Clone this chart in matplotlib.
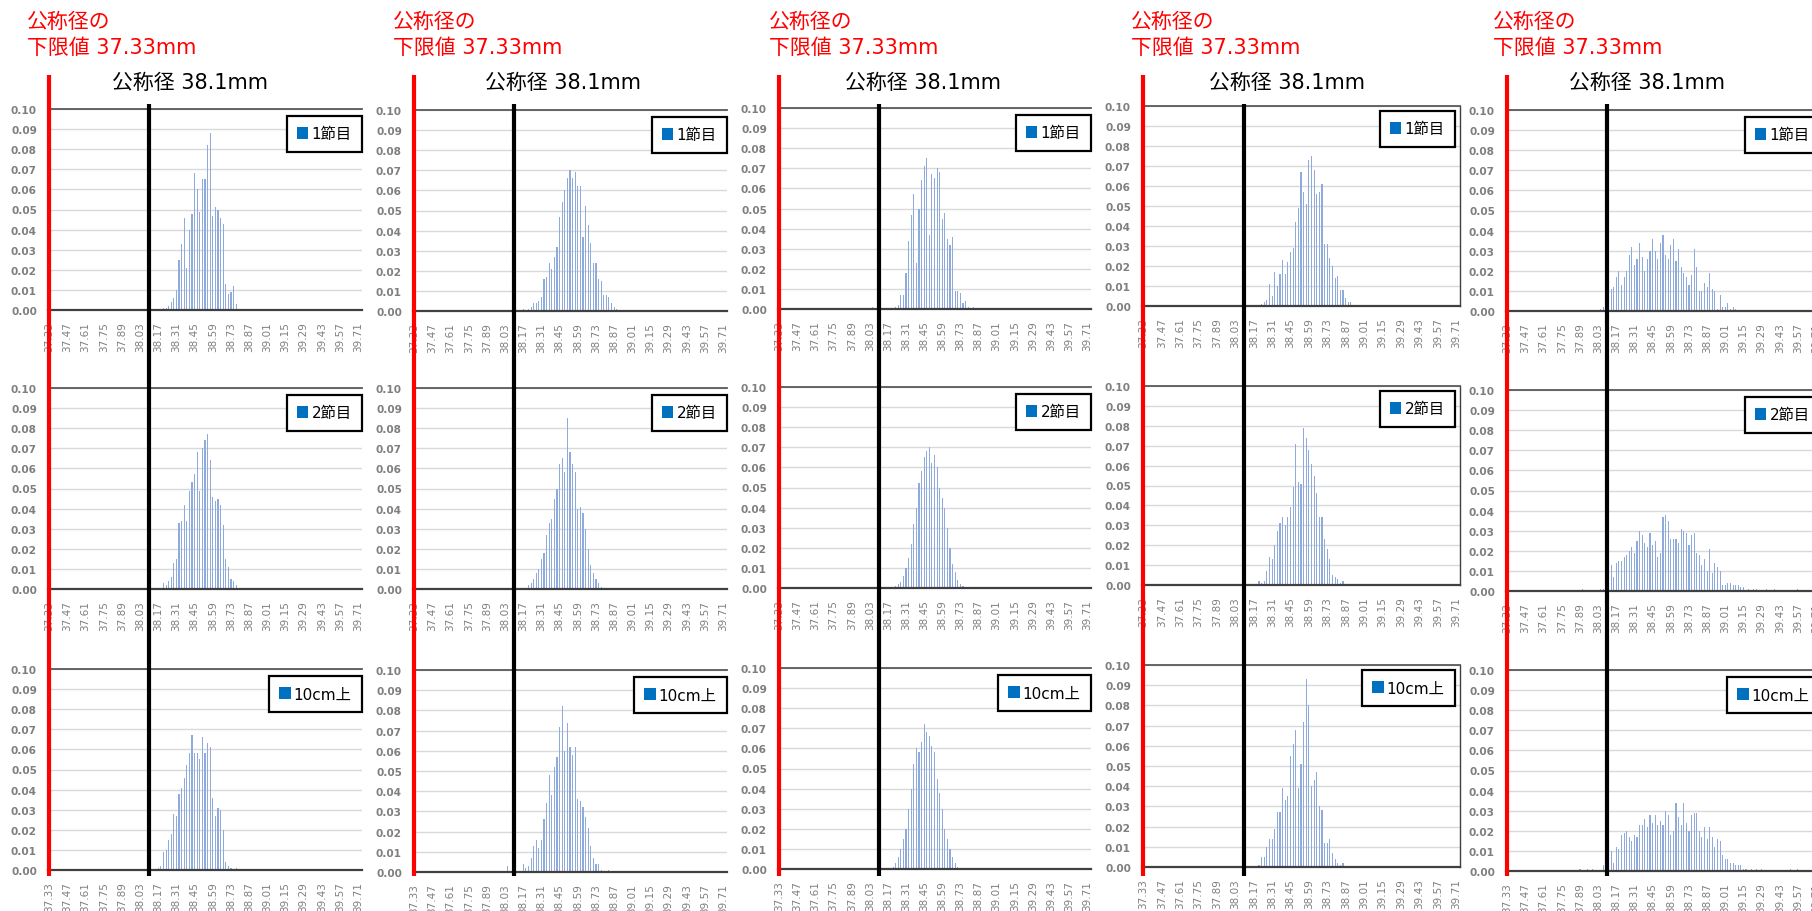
import numpy as np
import matplotlib
matplotlib.use("Agg")
import matplotlib.pyplot as plt
import matplotlib.transforms as mtransforms
from matplotlib.lines import Line2D
from matplotlib.patches import Patch
from matplotlib.ticker import FixedLocator, FormatStrFormatter

plt.rcParams["font.family"] = ["DejaVu Sans", "Noto Sans CJK JP"]

# ---- axis definition -------------------------------------------------------
BIN_FIRST = 37.33          # first diameter class (mm)
BIN_STEP = 0.02            # class width (mm)
N_BINS = 121               # number of classes on the category axis
LOWER_LIMIT = 37.33        # lower limit of nominal diameter (mm)
NOMINAL = 38.1             # nominal diameter (mm)
Y_MAX = 0.10

tick_labels = ["37.33", "37.47", "37.61", "37.75", "37.89", "38.03", "38.17",
               "38.31", "38.45", "38.59", "38.73", "38.87", "39.01", "39.15",
               "39.29", "39.43", "39.57", "39.71"]
y_ticks = [0.00, 0.01, 0.02, 0.03, 0.04, 0.05, 0.06, 0.07, 0.08, 0.09, 0.10]
series_names = ["1節目", "2節目", "10cm上"]

# ---- relative frequencies: first class and values on consecutive classes ----
c1_r1_from = 38.21
c1_r1 = [0.001, 0.001, 0.002, 0.004, 0.006, 0.010, 0.025, 0.033, 0.046, 0.021,
         0.040, 0.048, 0.068, 0.060, 0.049, 0.065, 0.065, 0.082, 0.088, 0.047,
         0.051, 0.050, 0.046, 0.043, 0.013, 0.008, 0.009, 0.012, 0.003]
c1_r2_from = 38.21
c1_r2 = [0.003, 0.002, 0.004, 0.006, 0.013, 0.015, 0.033, 0.034, 0.042, 0.034,
         0.049, 0.053, 0.057, 0.068, 0.049, 0.070, 0.074, 0.077, 0.064, 0.046,
         0.044, 0.045, 0.042, 0.032, 0.015, 0.011, 0.005, 0.004, 0.002]
c1_r3_from = 38.17
c1_r3 = [0.001, 0.002, 0.009, 0.010, 0.015, 0.018, 0.028, 0.027, 0.038, 0.041,
         0.046, 0.052, 0.058, 0.067, 0.058, 0.058, 0.055, 0.066, 0.058, 0.063,
         0.061, 0.036, 0.027, 0.031, 0.030, 0.020, 0.004, 0.002, 0.001, 0.000,
         0.001]

c2_r1_from = 38.17
c2_r1 = [0.001, 0.000, 0.001, 0.002, 0.004, 0.004, 0.005, 0.007, 0.016, 0.017,
         0.024, 0.021, 0.027, 0.032, 0.047, 0.054, 0.060, 0.066, 0.070, 0.066,
         0.069, 0.062, 0.062, 0.037, 0.052, 0.043, 0.034, 0.024, 0.024, 0.016,
         0.015, 0.008, 0.008, 0.007, 0.004, 0.002, 0.001]
c2_r2_from = 38.21
c2_r2 = [0.002, 0.003, 0.005, 0.008, 0.010, 0.015, 0.018, 0.027, 0.033, 0.035,
         0.045, 0.050, 0.062, 0.065, 0.058, 0.085, 0.068, 0.062, 0.058, 0.040,
         0.041, 0.038, 0.030, 0.020, 0.012, 0.008, 0.005, 0.003, 0.001]
c2_r3_from = 38.05
c2_r3 = [0.003, 0.000, 0.000, 0.000, 0.000, 0.000,
         0.004, 0.002, 0.003, 0.007, 0.013, 0.016, 0.012, 0.016, 0.026, 0.034,
         0.048, 0.038, 0.052, 0.057, 0.072, 0.082, 0.060, 0.074, 0.062, 0.058,
         0.062, 0.036, 0.035, 0.032, 0.027, 0.022, 0.013, 0.007, 0.004, 0.004,
         0.001, 0.000, 0.000, 0.001]

c3_r1_from = 38.05
c3_r1 = [0.001, 0.000, 0.000, 0.000, 0.000, 0.000, 0.000, 0.000, 0.000,
         0.001, 0.002, 0.007, 0.007, 0.018, 0.034, 0.047, 0.057, 0.023, 0.050,
         0.064, 0.071, 0.075, 0.037, 0.067, 0.065, 0.070, 0.068, 0.045, 0.048,
         0.035, 0.032, 0.036, 0.009, 0.009, 0.008, 0.003, 0.004, 0.001, 0.000,
         0.001]
c3_r2_from = 38.23
c3_r2 = [0.001, 0.002, 0.003, 0.006, 0.010, 0.015, 0.022, 0.032, 0.040, 0.052,
         0.058, 0.065, 0.068, 0.070, 0.062, 0.066, 0.060, 0.050, 0.045, 0.040,
         0.030, 0.020, 0.012, 0.008, 0.004, 0.002, 0.001]
c3_r3_from = 38.21
c3_r3 = [0.001, 0.003, 0.006, 0.010, 0.015, 0.020, 0.030, 0.040, 0.052, 0.060,
         0.058, 0.063, 0.072, 0.068, 0.066, 0.061, 0.058, 0.045, 0.038, 0.030,
         0.020, 0.015, 0.010, 0.006, 0.003, 0.001]

c4_r1_from = 38.23
c4_r1 = [0.001, 0.002, 0.003, 0.011, 0.005, 0.017, 0.010, 0.016, 0.023, 0.016,
         0.022, 0.027, 0.029, 0.042, 0.049, 0.067, 0.057, 0.051, 0.073, 0.075,
         0.068, 0.056, 0.057, 0.061, 0.031, 0.031, 0.024, 0.020, 0.014, 0.015,
         0.008, 0.008, 0.004, 0.002, 0.002]
c4_r2_from = 38.21
c4_r2 = [0.002, 0.001, 0.002, 0.007, 0.014, 0.013, 0.020, 0.027, 0.031, 0.034,
         0.030, 0.034, 0.039, 0.049, 0.071, 0.052, 0.051, 0.079, 0.074, 0.068,
         0.061, 0.055, 0.046, 0.034, 0.034, 0.023, 0.018, 0.013, 0.005, 0.004,
         0.003, 0.001, 0.002]
c4_r3_from = 38.21
c4_r3 = [0.001, 0.005, 0.005, 0.010, 0.014, 0.014, 0.019, 0.027, 0.027, 0.039,
         0.033, 0.035, 0.055, 0.061, 0.068, 0.039, 0.051, 0.072, 0.093, 0.080,
         0.040, 0.043, 0.047, 0.030, 0.028, 0.012, 0.012, 0.014, 0.007, 0.004,
         0.002, 0.001, 0.002]

c5_r1_from = 38.05
c5_r1 = [0.001, 0.002, 0.002, 0.003, 0.011, 0.012, 0.017, 0.020, 0.013, 0.017,
         0.020, 0.028, 0.032, 0.023, 0.026, 0.034, 0.027, 0.020, 0.026, 0.030,
         0.036, 0.030, 0.026, 0.034, 0.038, 0.028, 0.026, 0.033, 0.036, 0.025,
         0.031, 0.022, 0.019, 0.017, 0.013, 0.018, 0.031, 0.022, 0.010, 0.010,
         0.014, 0.012, 0.019, 0.011, 0.010, 0.001, 0.008, 0.002, 0.002, 0.004,
         0.001, 0.002, 0.001]
c5_r2_from = 37.91
c5_r2 = [0.001, 0.000, 0.000, 0.000, 0.000, 0.000, 0.000,
         0.001, 0.001, 0.001, 0.002, 0.013, 0.007, 0.014, 0.015, 0.015, 0.017,
         0.018, 0.020, 0.022, 0.019, 0.025, 0.030, 0.028, 0.024, 0.022, 0.029,
         0.023, 0.025, 0.017, 0.019, 0.037, 0.038, 0.035, 0.026, 0.026, 0.026,
         0.024, 0.031, 0.030, 0.029, 0.023, 0.028, 0.029, 0.019, 0.018, 0.013,
         0.016, 0.010, 0.021, 0.009, 0.014, 0.012, 0.010, 0.003, 0.003, 0.004,
         0.004, 0.003, 0.003, 0.003, 0.002, 0.002, 0.000, 0.001, 0.000, 0.001,
         0.001, 0.000, 0.000, 0.000, 0.001, 0.000, 0.000, 0.001, 0.000, 0.000,
         0.000, 0.000, 0.000, 0.000, 0.000, 0.000, 0.001]
c5_r3_from = 37.89
c5_r3 = [0.001, 0.000, 0.000, 0.001, 0.000, 0.001, 0.000, 0.000, 0.000,
         0.003, 0.001, 0.002, 0.010, 0.004, 0.012, 0.011, 0.018, 0.019, 0.020,
         0.017, 0.015, 0.018, 0.017, 0.023, 0.023, 0.026, 0.022, 0.028, 0.024,
         0.028, 0.023, 0.025, 0.023, 0.030, 0.028, 0.018, 0.020, 0.034, 0.027,
         0.023, 0.034, 0.024, 0.020, 0.028, 0.029, 0.029, 0.020, 0.017, 0.022,
         0.016, 0.022, 0.017, 0.012, 0.016, 0.015, 0.008, 0.006, 0.006, 0.004,
         0.004, 0.003, 0.003, 0.003, 0.001, 0.001, 0.000, 0.001, 0.000, 0.001,
         0.000, 0.001, 0.000, 0.000, 0.000, 0.000, 0.000, 0.000, 0.000, 0.000,
         0.000, 0.000, 0.001, 0.000, 0.000, 0.001]

panels = [
    [(c1_r1_from, c1_r1), (c1_r2_from, c1_r2), (c1_r3_from, c1_r3)],
    [(c2_r1_from, c2_r1), (c2_r2_from, c2_r2), (c2_r3_from, c2_r3)],
    [(c3_r1_from, c3_r1), (c3_r2_from, c3_r2), (c3_r3_from, c3_r3)],
    [(c4_r1_from, c4_r1), (c4_r2_from, c4_r2), (c4_r3_from, c4_r3)],
    [(c5_r1_from, c5_r1), (c5_r2_from, c5_r2), (c5_r3_from, c5_r3)],
]

# ---- page layout (pixels on a 1812 x 912 canvas) ---------------------------
W, H = 1812, 912
col_x = [(48, 362), (413, 727), (778, 1091), (1142, 1460), (1506, 1820)]
row_y = [
    [(110, 311), (389, 590), (670, 871)],
    [(111, 312), (389, 590), (671, 873)],
    [(109, 310), (388, 589), (669, 870)],
    [(107, 307), (387, 586), (666, 868)],
    [(111, 312), (391, 592), (671, 872)],
]
boxed = [False, False, False, True, False]
legend_inset = [(0, 7), (0, 7), (0, 7), (5, 5), (0, 7)]
limit_text_x = [27, 393, 769, 1131, 1493]
title_x = [190, 563, 923, 1287, 1647]

BAR_COLOR = "#8faadc"
GRID_COLOR = "#d9d9d9"
LABEL_GRAY = "#7f7f7f"

fig = plt.figure(figsize=(W / 100, H / 100), dpi=100)
fig.patch.set_facecolor("white")

for c in range(5):
    left, right = col_x[c]
    col_axes = []
    for r in range(3):
        top, bot = row_y[c][r]
        ax = fig.add_axes([left / W, 1 - bot / H, (right - left) / W, (bot - top) / H])
        col_axes.append(ax)
        first, vals = panels[c][r]
        centers = first + BIN_STEP * np.arange(len(vals))
        ax.bar(centers, vals, width=0.0085, color=BAR_COLOR, linewidth=0, zorder=2)

        ax.set_xlim(BIN_FIRST - BIN_STEP / 2, BIN_FIRST + BIN_STEP * (N_BINS - 0.5))
        ax.set_ylim(0, Y_MAX)
        ax.yaxis.set_major_locator(FixedLocator(y_ticks))
        ax.yaxis.set_major_formatter(FormatStrFormatter("%.2f"))
        ax.set_xticks([float(t) for t in tick_labels], tick_labels, rotation=90)
        ax.yaxis.grid(True, color=GRID_COLOR, linewidth=1.0, zorder=0)
        ax.set_axisbelow(True)

        ax.tick_params(axis="x", length=0, pad=8, labelsize=7.5, labelcolor=LABEL_GRAY)
        ax.tick_params(axis="y", length=0, pad=8, labelsize=7.6, labelcolor=LABEL_GRAY)
        for lab in ax.get_yticklabels():
            lab.set_fontweight("bold")

        ax.spines["top"].set_color("#595959")
        ax.spines["top"].set_linewidth(1.3)
        ax.spines["bottom"].set_color("#404040")
        ax.spines["bottom"].set_linewidth(1.6)
        ax.spines["bottom"].set_zorder(3)
        for side in ("left", "right"):
            ax.spines[side].set_visible(boxed[c])
            ax.spines[side].set_color("#404040")
            ax.spines[side].set_linewidth(1.0)

        dx, dy = legend_inset[c]
        leg = ax.legend(handles=[Patch(facecolor="#0070C0", edgecolor="none")],
                        labels=[series_names[r]], loc="upper right",
                        bbox_to_anchor=(1 - dx / (right - left), 1 - dy / (bot - top)),
                        borderaxespad=0, fontsize=11, fancybox=False, framealpha=1,
                        handlelength=0.75, handleheight=0.75, handletextpad=0.2,
                        borderpad=0.68)
        leg.get_frame().set_edgecolor("black")
        leg.get_frame().set_linewidth(1.6)

    # reference lines: lower limit (red) and nominal diameter (black)
    trans = mtransforms.blended_transform_factory(col_axes[0].transData, fig.transFigure)
    y_end = 1 - 877 / H
    fig.add_artist(Line2D([LOWER_LIMIT, LOWER_LIMIT], [y_end, 1 - 76 / H],
                          transform=trans, color="#ff0000", linewidth=3.0,
                          solid_capstyle="butt", zorder=5))
    fig.add_artist(Line2D([NOMINAL, NOMINAL], [y_end, 1 - 105 / H],
                          transform=trans, color="black", linewidth=3.0,
                          solid_capstyle="butt", zorder=5))

    fig.text(limit_text_x[c] / W, 1 - 22 / H, "公称径の", color="#ff0000",
             fontsize=15, ha="left", va="center")
    fig.text(limit_text_x[c] / W, 1 - 48.5 / H, f"下限値 {LOWER_LIMIT:.2f}mm",
             color="#ff0000", fontsize=15, ha="left", va="center")
    fig.text(title_x[c] / W, 1 - 83 / H, f"公称径 {NOMINAL}mm", color="black",
             fontsize=15, ha="center", va="center")

fig.savefig("out.png", dpi=100, facecolor="white")
